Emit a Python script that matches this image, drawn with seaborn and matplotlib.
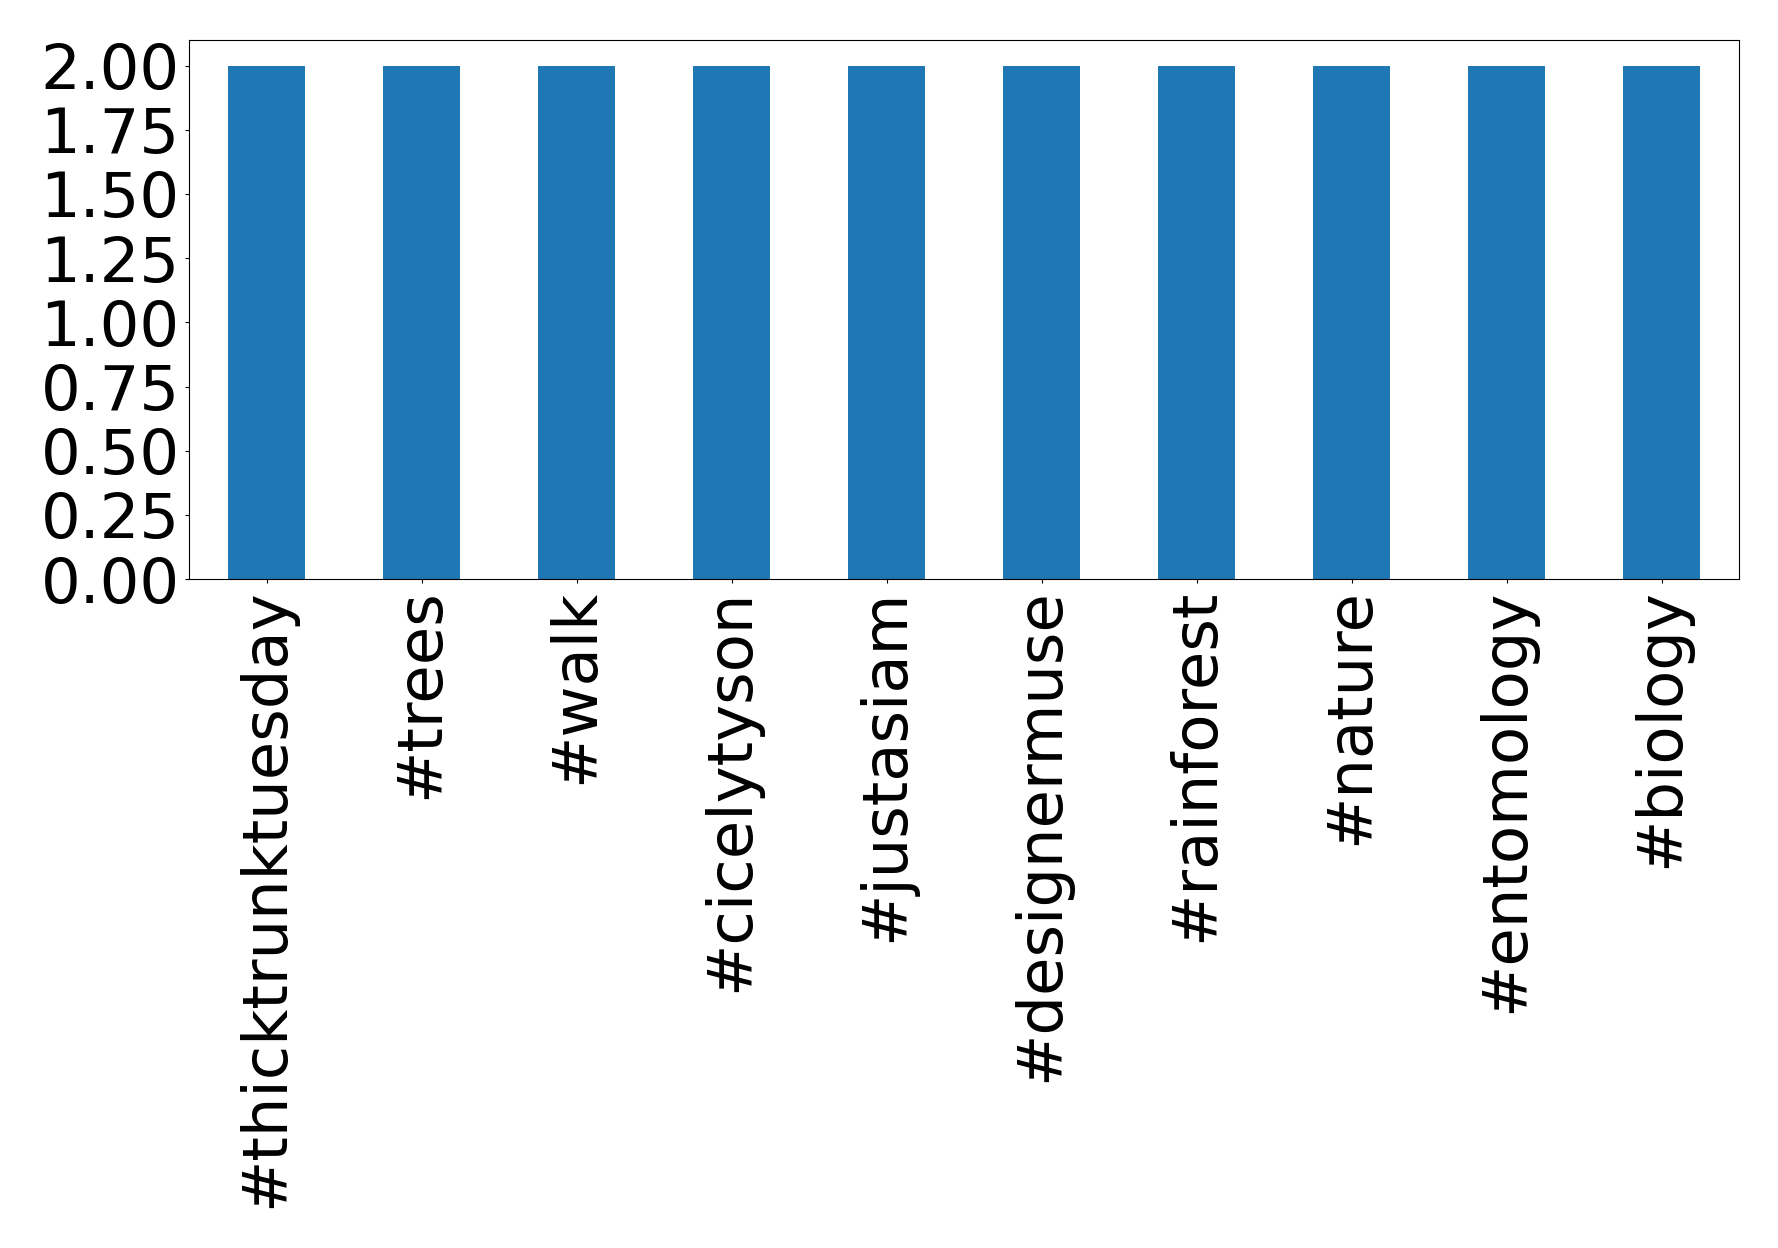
import seaborn as sns
from matplotlib import pyplot as plt

hashtags = ["#thicktrunktuesday", "#trees", "#walk", "#cicelytyson", "#justasiam",
            "#designermuse", "#rainforest", "#nature", "#entomology", "#biology"]
counts = [2, 2, 2, 2, 2, 2, 2, 2, 2, 2]

plt.rcParams.update({'font.size': 45})

fig = plt.figure(figsize=(17.78, 12.48), dpi=100)
ax = fig.add_axes([189/1778, 1 - 579/1248, 1550/1778, 539/1248])

sns.barplot(x=hashtags, y=counts, color="#1f77b4", saturation=1, width=0.5, ax=ax)
ax.set_xlim(-0.5, len(hashtags) - 0.5)
ax.set_ylim(0, 2.1)
ax.set_yticks([0, 0.25, 0.5, 0.75, 1.0, 1.25, 1.5, 1.75, 2.0])
ax.set_yticklabels([f"{v:.2f}" for v in ax.get_yticks()])
ax.tick_params(axis='x', labelrotation=90)
ax.tick_params(length=3.2)
ax.set_xlabel("")
ax.set_ylabel("")

fig.savefig("out.png", dpi=100)
